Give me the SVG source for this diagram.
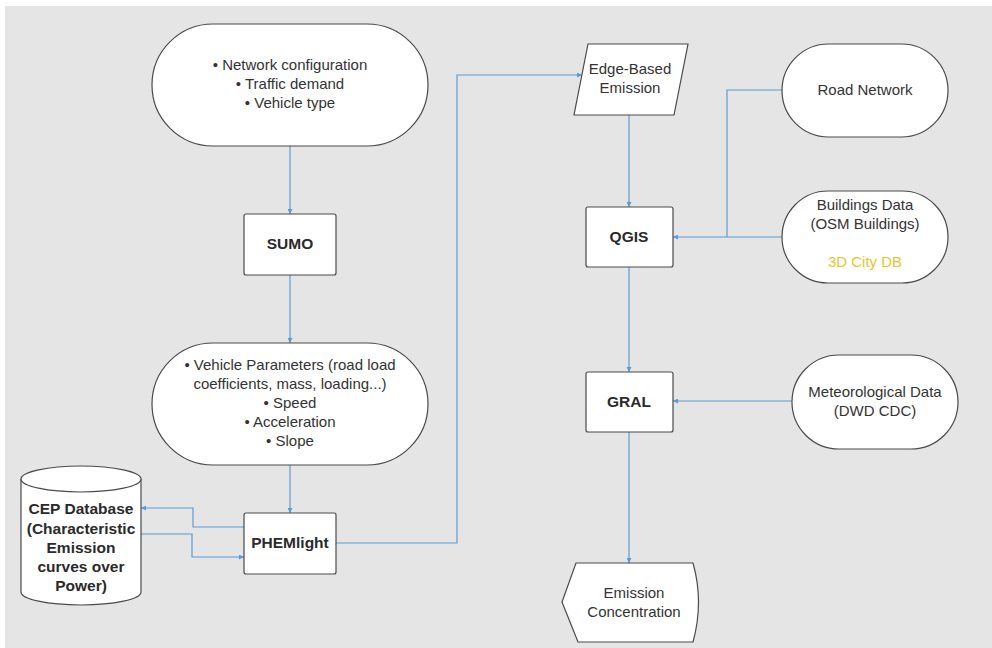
<svg xmlns="http://www.w3.org/2000/svg" width="992" height="648" viewBox="0 0 992 648">
<style>
.bg{fill:#e5e5e5}
.shape{fill:#ffffff;stroke:#4a4a4a;stroke-width:1.2}
.t{font-family:"Liberation Sans",Arial,sans-serif;font-size:15px;fill:#333333;text-anchor:middle}
.b{font-family:"Liberation Sans",Arial,sans-serif;font-size:15.5px;font-weight:bold;fill:#2a2a2a;text-anchor:middle}
.y{fill:#e8c52a}
.c{fill:none;stroke:#5b9bd5;stroke-width:1.2}
</style>
<defs>
<marker id="ah" viewBox="0 0 6 6" refX="6" refY="3" markerWidth="5" markerHeight="5" orient="auto" markerUnits="userSpaceOnUse">
<path d="M0,0 L6,3 L0,6 z" fill="#5b9bd5"/>
</marker>
</defs>
<rect x="0" y="0" width="992" height="648" fill="#ffffff"/>
<rect class="bg" x="5" y="6" width="987" height="642"/>

<g id="connectors">
<path class="c" d="M290,146 L290,214" marker-end="url(#ah)"/>
<path class="c" d="M290,275 L290,343" marker-end="url(#ah)"/>
<path class="c" d="M290,465 L290,513" marker-end="url(#ah)"/>
<path class="c" d="M244,527 L193,527 L193,508 L141,508" marker-end="url(#ah)"/>
<path class="c" d="M141,534 L192,534 L192,557 L244,557" marker-end="url(#ah)"/>
<path class="c" d="M336,543 L457,543 L457,75 L582,75" marker-end="url(#ah)"/>
<path class="c" d="M629,115 L629,207" marker-end="url(#ah)"/>
<path class="c" d="M782,90 L727,90 L727,237"/>
<path class="c" d="M782,237 L673,237" marker-end="url(#ah)"/>
<path class="c" d="M629,267 L629,372" marker-end="url(#ah)"/>
<path class="c" d="M792,401 L673,401" marker-end="url(#ah)"/>
<path class="c" d="M629,432 L629,563" marker-end="url(#ah)"/>
</g>

<g id="inputs">
<rect class="shape" x="152" y="24" width="276" height="122" rx="61" ry="61"/>
<text class="t" x="290" y="70">• Network configuration</text>
<text class="t" x="290" y="89">• Traffic demand</text>
<text class="t" x="290" y="108">• Vehicle type</text>
</g>

<g id="sumo">
<rect class="shape" x="244" y="214" width="92" height="61" rx="2"/>
<text class="b" x="290" y="249">SUMO</text>
</g>

<g id="vehicle-params">
<rect class="shape" x="152" y="343" width="276" height="122" rx="61" ry="61"/>
<text class="t" x="290" y="370">• Vehicle Parameters (road load</text>
<text class="t" x="290" y="389">coefficients, mass, loading...)</text>
<text class="t" x="290" y="408">• Speed</text>
<text class="t" x="290" y="427">• Acceleration</text>
<text class="t" x="290" y="446">• Slope</text>
</g>

<g id="phemlight">
<rect class="shape" x="244" y="513" width="92" height="61" rx="2"/>
<text class="b" x="290" y="548">PHEMlight</text>
</g>

<g id="cep-database">
<path class="shape" d="M21,479 A60,13 0 0 1 141,479 L141,592 A60,13 0 0 1 21,592 Z"/>
<path class="shape" d="M21,479 A60,13 0 0 0 141,479" fill="none"/>
<text class="b" x="81" y="514">CEP Database</text>
<text class="b" x="81" y="534">(Characteristic</text>
<text class="b" x="81" y="553">Emission</text>
<text class="b" x="81" y="572">curves over</text>
<text class="b" x="81" y="591">Power)</text>
</g>

<g id="edge-based-emission">
<path class="shape" d="M588,44 L688,44 L674,115 L574,115 Z"/>
<text class="t" x="630" y="74">Edge-Based</text>
<text class="t" x="630" y="93">Emission</text>
</g>

<g id="road-network">
<rect class="shape" x="782" y="44" width="166" height="93" rx="46.5" ry="46.5"/>
<text class="t" x="865" y="95">Road Network</text>
</g>

<g id="buildings-data">
<rect class="shape" x="782" y="191" width="166" height="92" rx="46" ry="46"/>
<text class="t" x="865" y="210">Buildings Data</text>
<text class="t" x="865" y="229">(OSM Buildings)</text>
<text class="t y" x="865" y="267">3D City DB</text>
</g>

<g id="qgis">
<rect class="shape" x="586" y="207" width="87" height="60" rx="2"/>
<text class="b" x="629" y="242">QGIS</text>
</g>

<g id="gral">
<rect class="shape" x="586" y="372" width="87" height="60" rx="2"/>
<text class="b" x="629" y="407">GRAL</text>
</g>

<g id="meteorological-data">
<rect class="shape" x="792" y="355" width="166" height="94" rx="47" ry="47"/>
<text class="t" x="875" y="397">Meteorological Data</text>
<text class="t" x="875" y="416">(DWD CDC)</text>
</g>

<g id="emission-concentration">
<path class="shape" d="M576,563 L693,563 Q704,602 693,642 L578,642 L562,602 Z"/>
<text class="t" x="634" y="598">Emission</text>
<text class="t" x="634" y="617">Concentration</text>
</g>
</svg>
